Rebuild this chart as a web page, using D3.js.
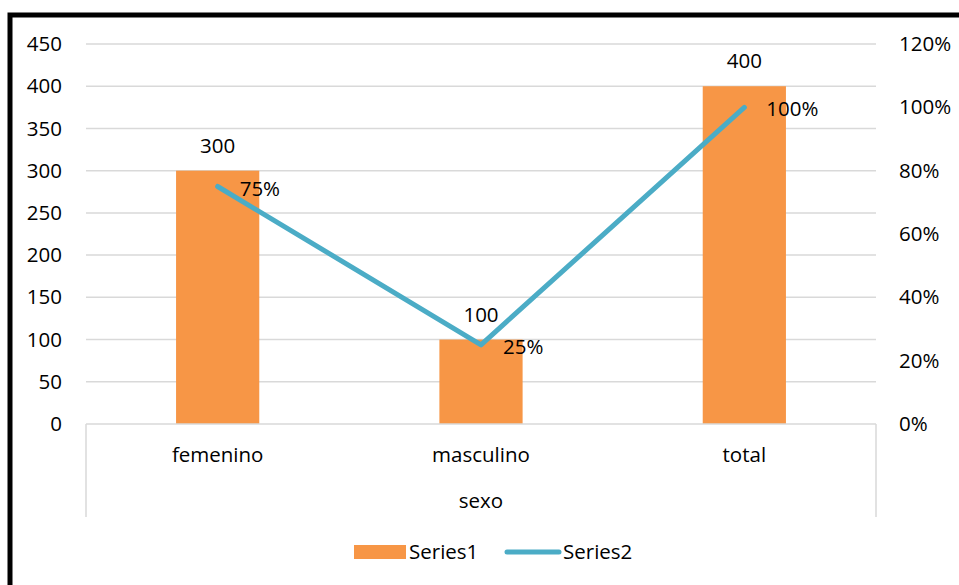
<!DOCTYPE html>
<html>
<head>
<meta charset="utf-8">
<script src="https://cdn.jsdelivr.net/npm/d3@7/dist/d3.min.js"></script>
<style>
  html, body { margin: 0; padding: 0; background: #fff; }
  svg { display: block; font-family: "Open Sans", "Noto Sans", sans-serif; }
</style>
</head>
<body>
<svg id="chart" width="959" height="585"></svg>
<script>
// Data
const categories = ["femenino", "masculino", "total"];
const series1 = [300, 100, 400];          // counts (bars, left axis)
const series2 = [0.75, 0.25, 1.00];       // shares (line, right axis)
const leftTicks = [0, 50, 100, 150, 200, 250, 300, 350, 400, 450];
const rightTicks = [0, 0.2, 0.4, 0.6, 0.8, 1.0, 1.2];
const axisTitle = "sexo";
const seriesNames = ["Series1", "Series2"];

const orange = "#F79646";
const blue = "#4BACC6";
const grid = "#D9D9D9";
const fontSize = 20.5;

const svg = d3.select("#chart");

// Outer frame (extends past the right/bottom edges of the view)
svg.append("rect")
  .attr("x", 10).attr("y", 15)
  .attr("width", 1000).attr("height", 640)
  .attr("fill", "none").attr("stroke", "#000").attr("stroke-width", 5);

const plot = { left: 86, right: 876, top: 44, bottom: 424 };

const x = d3.scaleBand().domain(categories)
  .range([plot.left, plot.right]).paddingInner(0.684).paddingOuter(0.342);
const yL = d3.scaleLinear().domain([0, 450]).range([plot.bottom, plot.top]);
const yR = d3.scaleLinear().domain([0, 1.2]).range([plot.bottom, plot.top]);
const cx = c => x(c) + x.bandwidth() / 2;

// Gridlines
svg.append("g").selectAll("line").data(leftTicks.filter(d => d > 0)).join("line")
  .attr("x1", plot.left).attr("x2", plot.right)
  .attr("y1", d => yL(d)).attr("y2", d => yL(d))
  .attr("stroke", grid).attr("stroke-width", 1.5);

// Left axis labels
const leftAxis = d3.axisLeft(yL).tickValues(leftTicks).tickSize(0).tickPadding(0);
svg.append("g").attr("transform", `translate(62,0)`).call(leftAxis)
  .call(g => g.select(".domain").remove())
  .selectAll("text").attr("font-size", fontSize).attr("fill", "#000")
  .attr("font-family", "Open Sans");

// Right axis labels
const rightAxis = d3.axisRight(yR).tickValues(rightTicks).tickSize(0).tickPadding(0)
  .tickFormat(d3.format(".0%"));
svg.append("g").attr("transform", `translate(899,0)`).call(rightAxis)
  .call(g => g.select(".domain").remove())
  .selectAll("text").attr("font-size", fontSize).attr("fill", "#000")
  .attr("font-family", "Open Sans");

// Bars
svg.append("g").selectAll("rect").data(categories).join("rect")
  .attr("x", d => x(d)).attr("width", x.bandwidth())
  .attr("y", (d, i) => yL(series1[i]))
  .attr("height", (d, i) => yL(0) - yL(series1[i]))
  .attr("fill", orange);

// Category axis with the grouped-label box
const axisG = svg.append("g");
axisG.append("line").attr("x1", plot.left).attr("x2", plot.right)
  .attr("y1", plot.bottom).attr("y2", plot.bottom)
  .attr("stroke", grid).attr("stroke-width", 1.5);
[plot.left, plot.right].forEach(px => axisG.append("line")
  .attr("x1", px).attr("x2", px).attr("y1", plot.bottom).attr("y2", 517)
  .attr("stroke", grid).attr("stroke-width", 1.5));
axisG.selectAll("text.cat").data(categories).join("text").attr("class", "cat")
  .attr("x", d => cx(d)).attr("y", 462).attr("text-anchor", "middle")
  .attr("font-size", fontSize).text(d => d);
axisG.append("text").attr("x", (plot.left + plot.right) / 2).attr("y", 508)
  .attr("text-anchor", "middle").attr("font-size", fontSize).text(axisTitle);

// Line series
const line = d3.line().x((d, i) => cx(categories[i])).y(d => yR(d));
svg.append("path").datum(series2).attr("d", line)
  .attr("fill", "none").attr("stroke", blue).attr("stroke-width", 5)
  .attr("stroke-linecap", "round").attr("stroke-linejoin", "round");

// Value labels
svg.append("g").selectAll("text").data(categories).join("text")
  .attr("x", d => cx(d)).attr("y", (d, i) => yL(series1[i]) - 18)
  .attr("text-anchor", "middle").attr("font-size", fontSize)
  .text((d, i) => series1[i]);
svg.append("g").selectAll("text").data(categories).join("text")
  .attr("x", d => cx(d) + 22).attr("y", (d, i) => yR(series2[i]) + 9)
  .attr("font-size", fontSize)
  .text((d, i) => d3.format(".0%")(series2[i]));

// Legend
const leg = svg.append("g");
leg.append("rect").attr("x", 354).attr("y", 545).attr("width", 52).attr("height", 14).attr("fill", orange);
leg.append("text").attr("x", 409).attr("y", 559).attr("font-size", fontSize).text(seriesNames[0]);
leg.append("line").attr("x1", 507).attr("x2", 559).attr("y1", 552).attr("y2", 552)
  .attr("stroke", blue).attr("stroke-width", 5).attr("stroke-linecap", "round");
leg.append("text").attr("x", 563).attr("y", 559).attr("font-size", fontSize).text(seriesNames[1]);
</script>
</body>
</html>
